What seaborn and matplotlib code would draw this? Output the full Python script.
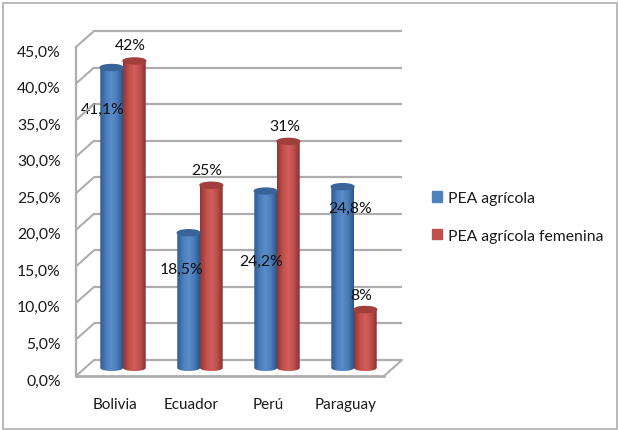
import numpy as np
import pandas as pd
import seaborn as sns
import matplotlib.pyplot as plt
from matplotlib.colors import LinearSegmentedColormap
from matplotlib.patches import ConnectionPatch, Ellipse, PathPatch, Rectangle
from matplotlib.path import Path
from matplotlib.transforms import ScaledTranslation

countries = ['Bolivia', 'Ecuador', 'Perú', 'Paraguay']
pea_agricola = [41.1, 18.5, 24.2, 24.8]
pea_femenina = [42, 25, 31, 8]
labels_agricola = ['41,1%', '18,5%', '24,2%', '24,8%']
labels_femenina = ['42%', '25%', '31%', '8%']
y_ticks = [0, 5, 10, 15, 20, 25, 30, 35, 40, 45]
y_tick_labels = ['0,0%', '5,0%', '10,0%', '15,0%', '20,0%', '25,0%', '30,0%',
                 '35,0%', '40,0%', '45,0%']
series_names = ['PEA agrícola', 'PEA agrícola femenina']

W, H = 619, 431
GRID = '#adadad'
FONT = 'Lato'

sns.set_theme(style='white')
plt.rcParams['font.family'] = [FONT, 'DejaVu Sans']


def px_axes(fig, left, right, y_bottom, y_top):
    """Add an axes given in picture pixels (y counted from the top)"""
    return fig.add_axes([left / W, 1 - y_bottom / H, (right - left) / W,
                         (y_bottom - y_top) / H])


def set_scale(ax):
    ax.set_xlim(-0.5, 3.5)
    ax.set_ylim(0, 45)


fig = plt.figure(figsize=(W / 100, H / 100), dpi=100)
fig.add_artist(Rectangle((3 / W, 1 - 430 / H), 614 / W, 426 / H, fill=False,
                         edgecolor='#b5b5b5', linewidth=1.3,
                         transform=fig.transFigure))

# back wall of the fake 3D box
wall = px_axes(fig, 94, 402, 361, 32)
set_scale(wall)
wall.axis('off')
wall.hlines(y_ticks, -0.5, 3.5, color=GRID, linewidth=1.6, clip_on=False)

# front plane carries the ticks
ax = px_axes(fig, 76, 384, 377, 48)
set_scale(ax)
ax.patch.set_alpha(0)
sns.despine(ax=ax)
ax.spines['left'].set_color(GRID)
ax.spines['bottom'].set_color(GRID)
ax.spines['left'].set_linewidth(1.6)
ax.spines['bottom'].set_linewidth(2)
ax.set_xticks(range(4), countries)
ax.set_yticks(y_ticks, y_tick_labels)
ax.tick_params(axis='y', length=0, pad=11, labelsize=11.3, labelcolor='#1a1a1a')
ax.tick_params(axis='x', length=0, pad=15, labelsize=11, labelcolor='#1a1a1a')
shift = ScaledTranslation(0, -3 / 100, fig.dpi_scale_trans)
for lab in ax.get_yticklabels():
    lab.set_transform(lab.get_transform() + shift)
for t in y_ticks:
    fig.add_artist(ConnectionPatch((-0.5, t), (-0.5, t), 'data', 'data', axesA=ax,
                                   axesB=wall, color=GRID, linewidth=1.5))
fig.add_artist(ConnectionPatch((3.5, 0), (3.5, 0), 'data', 'data', axesA=ax,
                               axesB=wall, color=GRID, linewidth=1.5))

# the bars
df = pd.DataFrame({'Pais': countries * 2,
                   'Valor': pea_agricola + pea_femenina,
                   'Serie': [series_names[0]] * 4 + [series_names[1]] * 4})
bar_ax = px_axes(fig, 84.5, 392.5, 369, 40)
bar_ax.patch.set_alpha(0)
sns.barplot(data=df, x='Pais', y='Valor', hue='Serie', ax=bar_ax, width=0.59,
            gap=0, palette=['#4f81bd', '#c0504d'], saturation=1, legend=False)
set_scale(bar_ax)
bar_ax.axis('off')

gradients = [LinearSegmentedColormap.from_list('b', ['#2f5b91', '#4a7cba', '#5b8dcb',
                                                     '#4a7cba', '#2c5688']),
             LinearSegmentedColormap.from_list('r', ['#8e3735', '#c04e4b', '#d25f5c',
                                                     '#bf4d4a', '#86322f'])]
cap_colors = ['#386498', '#a13f3c']
cap_h = 6 * 45 / 329  # cap height in data units
ramp = np.linspace(0, 1, 64).reshape(1, -1)
theta = np.linspace(np.pi, 2 * np.pi, 30)

for i, container in enumerate(bar_ax.containers):
    for bar in container:
        x0, w, top = bar.get_x(), bar.get_width(), bar.get_height()
        bar.set_visible(False)
        xc = x0 + w / 2
        # rounded foot: bar rectangle plus lower half ellipse
        foot = np.column_stack([xc + w / 2 * np.cos(theta), cap_h / 2 * np.sin(theta)])
        outline = np.vstack([[[x0, top]], foot, [[x0 + w, top]], [[x0, top]]])
        im = bar_ax.imshow(ramp, cmap=gradients[i], aspect='auto', zorder=3,
                           extent=(x0, x0 + w, -cap_h / 2, top))
        im.set_clip_box(fig.bbox)
        im.set_clip_path(PathPatch(Path(outline), transform=bar_ax.transData))
        bar_ax.add_patch(Ellipse((xc, top), w, cap_h, color=cap_colors[i], zorder=4,
                                 clip_on=False))
set_scale(bar_ax)

# data labels, where the original chart left them (pixel offsets from bar top)
offsets = [[(-9, -41), (-7, -36), (-5, -70), (7, -21)],
           [(-4, 16), (-5, 15), (-4, 15), (-4, 15)]]
for i, (container, texts) in enumerate(zip(bar_ax.containers,
                                           [labels_agricola, labels_femenina])):
    for bar, text, off in zip(container, texts, offsets[i]):
        bar_ax.annotate(text, (bar.get_x() + bar.get_width() / 2, bar.get_height()),
                        xytext=(off[0] * 0.72, off[1] * 0.72),
                        textcoords='offset points', ha='center', va='center',
                        fontsize=11.3, color='#111111', zorder=6,
                        annotation_clip=False)

# legend
handles = [Rectangle((0, 0), 1, 1, color=c) for c in ['#4f81bd', '#c0504d']]
fig.legend(handles, series_names, loc='center left', frameon=False,
           bbox_to_anchor=(432 / W, 1 - 218 / H), fontsize=11.3, labelspacing=1.5,
           handlelength=0.65, handleheight=0.65, handletextpad=0.35,
           labelcolor='#1a1a1a', borderpad=0, borderaxespad=0)

plt.savefig('out.png', dpi=100)
